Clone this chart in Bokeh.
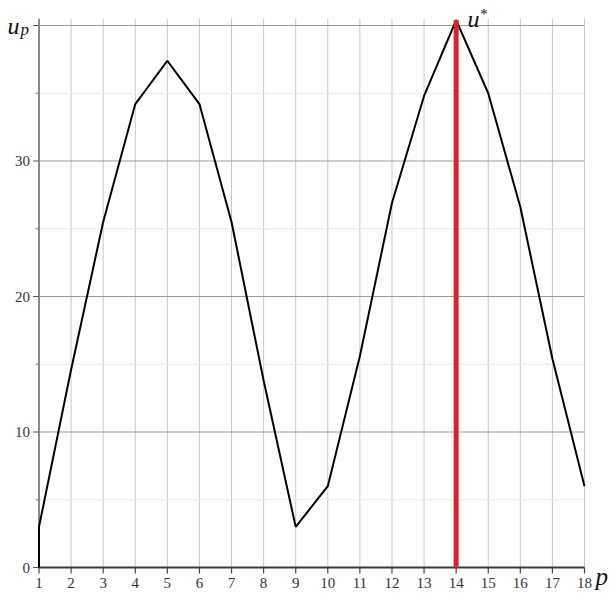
from bokeh.plotting import figure
from bokeh.models import Range1d, Label
from bokeh.embed import file_html
from bokeh.resources import INLINE

# data
p_vals = [1, 2, 3, 4, 5, 6, 7, 8, 9, 10, 11, 12, 13, 14, 15, 16, 17, 18]
u_vals = [3, 14.6, 25.5, 34.2, 37.4, 34.2, 25.5, 13.8, 3, 6, 15.6, 26.9, 34.8, 40.4, 35, 26.6, 15.4, 6]
p_star = 14
u_star = 40.4
x_ticks = list(range(1, 19))
x_labels = [str(t) for t in x_ticks]
y_major = [0, 10, 20, 30, 40]
y_major_labels = ["0", "10", "20", "30", ""]
y_minor = [5, 15, 25, 35]
y_top = 40.5

SERIF = "Liberation Serif"

# layout geometry (pixels)
W, H = 610, 594
PX_P1, PX_P18 = 38.5, 584.0     # pixel of p=1 and p=18
PY_U0, PY_U40 = 567.0, 25.0     # pixel of u=0 and u=40
sx = (PX_P18 - PX_P1) / 17.0
sy = (PY_U0 - PY_U40) / 40.0
x_start = 1 - PX_P1 / sx
x_end = x_start + W / sx
y_end = PY_U0 / sy
y_start = y_end - H / sy


def X(px):
    return x_start + px / sx


def Y(py):
    return y_end - py / sy


p = figure(width=W, height=H, output_backend="svg", toolbar_location=None,
           x_range=Range1d(x_start, x_end), y_range=Range1d(y_start, y_end),
           x_axis_location=None, y_axis_location=None,
           min_border=0, min_border_left=0, min_border_right=0,
           min_border_top=0, min_border_bottom=0)
p.outline_line_color = None
p.background_fill_color = "white"
p.border_fill_color = "white"
for g in p.grid:
    g.visible = False

x_lo, x_hi = x_ticks[0], x_ticks[-1]

# grid lines
p.segment(x0=x_ticks, y0=[0] * len(x_ticks), x1=x_ticks, y1=[y_top] * len(x_ticks),
          line_color="#c8c8c8", line_width=1)
p.segment(x0=[x_lo] * len(y_minor), y0=y_minor, x1=[x_hi] * len(y_minor), y1=y_minor,
          line_color="#e8e8e8", line_width=1)
p.segment(x0=[x_lo] * len(y_major), y0=y_major, x1=[x_hi] * len(y_major), y1=y_major,
          line_color="#9a9a9a", line_width=1)

# axis lines
p.segment(x0=[x_lo], y0=[0], x1=[x_lo], y1=[y_top], line_color="#8a8a8a", line_width=2)
p.segment(x0=[x_lo], y0=[0], x1=[x_hi], y1=[0], line_color="#3a3a3a", line_width=2)

# ticks
xt = 6 / sy
p.segment(x0=x_ticks, y0=[0] * len(x_ticks), x1=x_ticks, y1=[-xt] * len(x_ticks),
          line_color="#444444", line_width=1.2)
ytm = 6 / sx
p.segment(x0=[x_lo] * len(y_major), y0=y_major, x1=[x_lo - ytm] * len(y_major), y1=y_major,
          line_color="#555555", line_width=1.2)
ytn = 3.5 / sx
p.segment(x0=[x_lo] * len(y_minor), y0=y_minor, x1=[x_lo - ytn] * len(y_minor), y1=y_minor,
          line_color="#777777", line_width=1)

# tick labels
p.text(x=x_ticks, y=[0] * len(x_ticks), text=x_labels, y_offset=10,
       text_font={"value": SERIF}, text_font_size="15px", text_color="#333333",
       text_align="center", text_baseline="top")
p.text(x=[x_lo] * len(y_major), y=y_major, text=y_major_labels, x_offset=-9,
       text_font={"value": SERIF}, text_font_size="15px", text_color="#333333",
       text_align="right", text_baseline="middle")

# series
p.segment(x0=[p_vals[0]], y0=[0], x1=[p_vals[0]], y1=[u_vals[0]], line_color="black", line_width=2)
p.line(p_vals, u_vals, line_color="black", line_width=2)
p.segment(x0=[p_star], y0=[0], x1=[p_star], y1=[u_star], line_color="#e0202a", line_width=5)


def lab(px, py, t, size):
    p.add_layout(Label(x=X(px), y=Y(py), text=t, text_font=SERIF, text_font_style="italic",
                       text_font_size=size, text_color="#111111",
                       text_align="left", text_baseline="alphabetic"))


lab(7, 25, "u", "24px")
lab(20, 29, "p", "17px")
lab(467, 18, "u", "24px")
lab(479, 13, "*", "15px")
lab(595, 576, "p", "25px")

open("out.html", "w").write(file_html(p, INLINE))
